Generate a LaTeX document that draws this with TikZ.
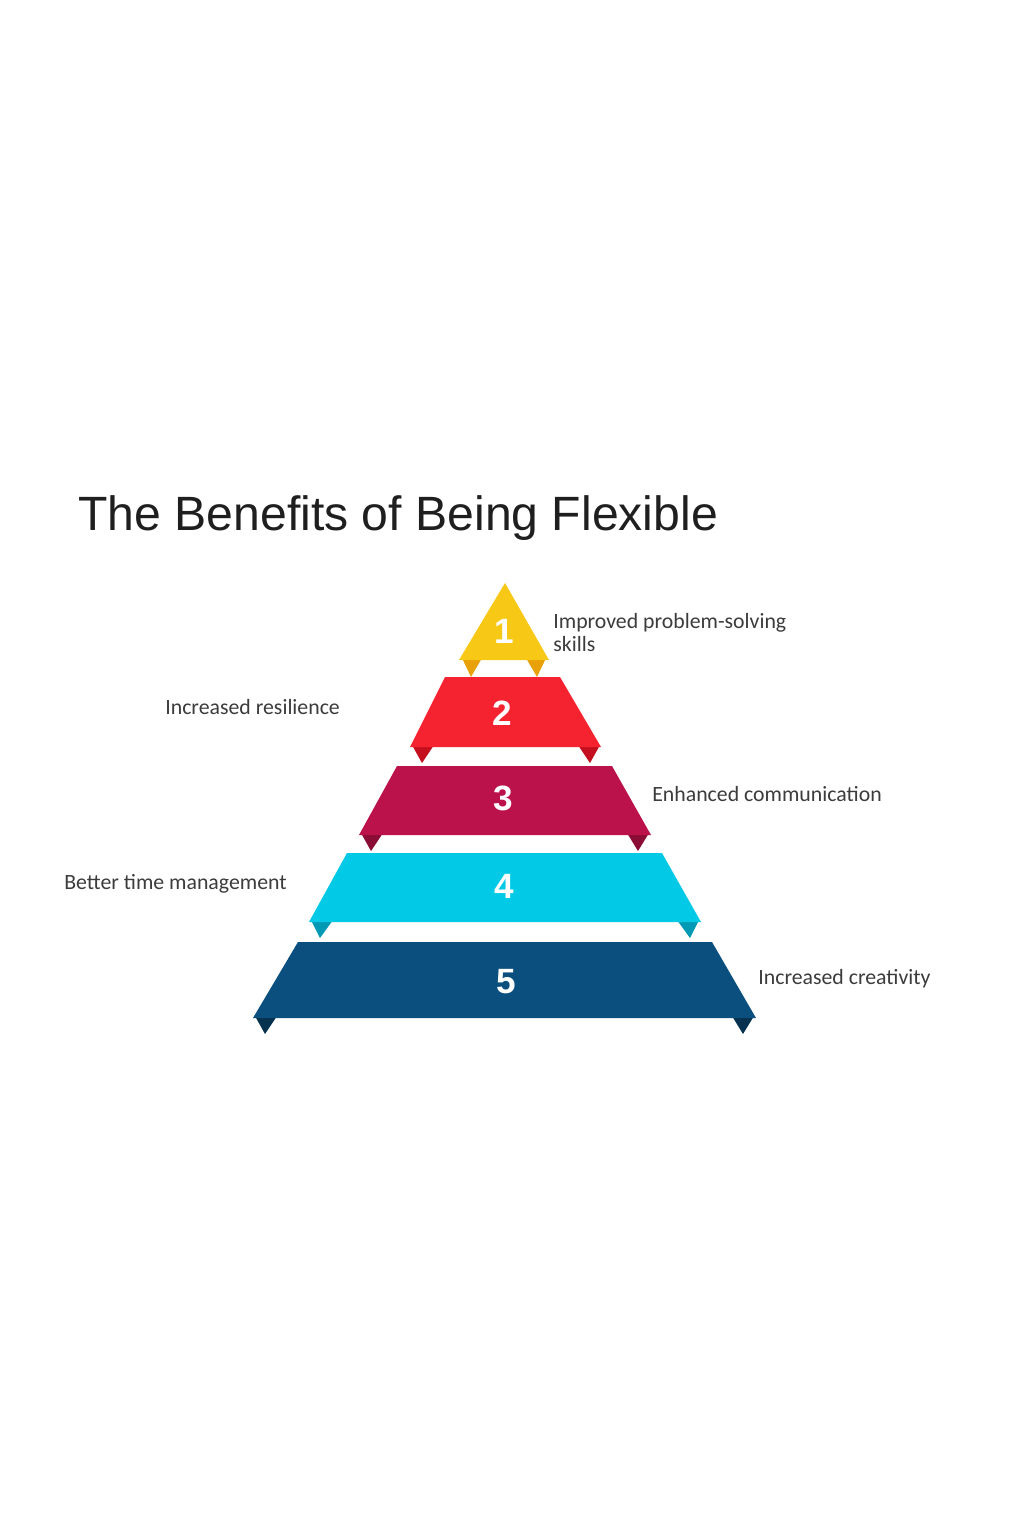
\documentclass[tikz,border=0pt]{standalone}
\usepackage{fontspec}
\setmainfont{Carlito}
\newfontfamily\headfont{Liberation Sans}
\usepackage{tikz}
\usetikzlibrary{positioning}

\definecolor{lyellow}{HTML}{F8C816}
\definecolor{dyellow}{HTML}{E9A10A}
\definecolor{lred}{HTML}{F5222F}
\definecolor{dred}{HTML}{C4101E}
\definecolor{lmaroon}{HTML}{BC124B}
\definecolor{dmaroon}{HTML}{8A0D36}
\definecolor{lcyan}{HTML}{02C9E6}
\definecolor{dcyan}{HTML}{0199B3}
\definecolor{lnavy}{HTML}{0A4F7E}
\definecolor{dnavy}{HTML}{06314F}
\definecolor{labelgray}{HTML}{3C3C3C}

\begin{document}
\begin{tikzpicture}[
  x=0.02cm, y=-0.02cm,
  title/.style={anchor=base west, inner sep=0pt, font=\headfont\fontsize{27.4}{30}\selectfont, text=black!88},
  benefit/.style={anchor=base west, inner sep=0pt, align=left, font=\fontsize{12.4}{13}\selectfont, text=labelgray},
  num/.style={inner sep=0pt, text=white, font=\headfont\bfseries\fontsize{20}{20}\selectfont}
]
\useasboundingbox (0,0) rectangle (1024,1536);
\fill[white] (0,0) rectangle (1024,1536);

\node[title] (ttl) at (78,530) {The Benefits of Being Flexible};

% layer 1
\fill[dyellow] (462,658) -- (482,658) -- (471,677) -- cycle;
\fill[dyellow] (526,658) -- (546,658) -- (537,677) -- cycle;
\fill[lyellow] (505,583) -- (549,660) -- (459,660) -- cycle;
% layer 2
\fill[dred] (412,745) -- (434,745) -- (422,763) -- cycle;
\fill[dred] (578,745) -- (600,745) -- (590,763) -- cycle;
\fill[lred] (445,677) -- (560,677) -- (601,747) -- (410,747) -- cycle;
% layer 3
\fill[dmaroon] (361,833) -- (383,833) -- (371,851) -- cycle;
\fill[dmaroon] (627,833) -- (649,833) -- (638,851) -- cycle;
\fill[lmaroon] (397,766) -- (612,766) -- (651,835) -- (359,835) -- cycle;
% layer 4
\fill[dcyan] (311,920) -- (333,920) -- (320,938) -- cycle;
\fill[dcyan] (677,920) -- (699,920) -- (690,938) -- cycle;
\fill[lcyan] (347,853) -- (662,853) -- (701,922) -- (309,922) -- cycle;
% layer 5
\fill[dnavy] (255,1016) -- (277,1016) -- (265,1034) -- cycle;
\fill[dnavy] (732,1016) -- (754,1016) -- (743,1034) -- cycle;
\fill[lnavy] (298,942) -- (712,942) -- (756,1018) -- (253,1018) -- cycle;

\node[num] (n1) at (504,631) {1};
\node[num] (n2) at (502,713) {2};
\node[num] (n3) at (503,798) {3};
\node[num] (n4) at (504,886) {4};
\node[num] (n5) at (506,982) {5};

\node[benefit] (b1) at (553,651) {Improved problem-solving\\skills};
\node[benefit] (b2) at (165,714) {Increased resilience};
\node[benefit] (b3) at (652,801) {Enhanced communication};
\node[benefit] (b4) at (64,889) {Better time management};
\node[benefit] (b5) at (758,984) {Increased creativity};
\end{tikzpicture}
\end{document}
